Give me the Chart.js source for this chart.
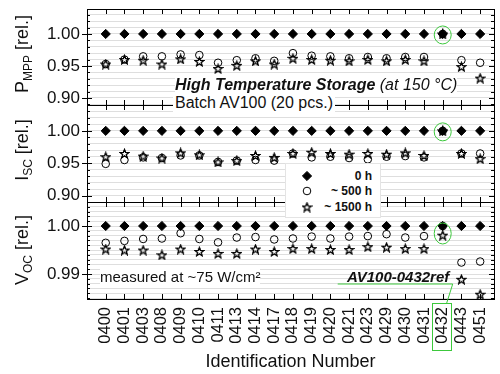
<!DOCTYPE html>
<html>
<head>
<meta charset="utf-8">
<script src="https://cdn.jsdelivr.net/npm/chart.js@4.4.1/dist/chart.umd.min.js"></script>
<style>
  html, body { margin: 0; padding: 0; background: #fff; }
  #wrap { position: relative; width: 500px; height: 374px; overflow: hidden;
          font-family: "Liberation Sans", Arial, sans-serif; color: #111; }
  #wrap canvas.panel { position: absolute; left: 0; }
  .note { position: absolute; white-space: nowrap; background: #fff; }
  .ytitle { position: absolute; white-space: nowrap; font-size: 18px; line-height: 18px;
            transform: translate(-50%, -50%) rotate(-90deg); }
  .ytitle sub { font-size: 12px; vertical-align: -4px; line-height: 0; }
  #legend { position: absolute; left: 285px; top: 163px; width: 96px; height: 55px;
            background: #fff; border: 1px solid #e4e4e4; box-sizing: border-box; }
  #legend .row { position: absolute; left: 0; width: 100%; height: 14px;
                 font-weight: bold; font-size: 12px; line-height: 14px; }
  #legend .row canvas { position: absolute; left: 14px; top: 0; }
  #legend .row span { position: absolute; right: 8px; top: 0; }
</style>
</head>
<body>
<div id="wrap">
  <canvas id="cP" class="panel" width="500" height="120" style="top:-3px"></canvas>
  <canvas id="cI" class="panel" width="500" height="121" style="top:93px"></canvas>
  <canvas id="cV" class="panel" width="500" height="184" style="top:190px"></canvas>

  <div class="ytitle" style="left:22px; top:54px">P<sub>MPP</sub> [rel.]</div>
  <div class="ytitle" style="left:22px; top:150px">I<sub>SC</sub> [rel.]</div>
  <div class="ytitle" style="left:22px; top:250px">V<sub>OC</sub> [rel.]</div>

  <div class="note" style="left:175px; top:76px; font-size:16px; line-height:18px; font-style:italic">
    <b>High Temperature Storage</b> (at 150 °C)</div>
  <div class="note" style="left:173px; top:94px; font-size:16px; line-height:18px; padding:0 2px">Batch AV100 (20 pcs.)</div>
  <div class="note" style="left:100px; top:268px; font-size:15px; line-height:17px">measured at ~75 W/cm²</div>
  <div class="note" style="left:347px; top:270px; font-size:15px; line-height:13px; font-weight:bold; font-style:italic; background:none">AV100-0432ref</div>

  <div id="legend">
    <div class="row" style="top:5px"><canvas id="lg0" width="14" height="14"></canvas><span id="lt0"></span></div>
    <div class="row" style="top:20px"><canvas id="lg1" width="14" height="14"></canvas><span id="lt1"></span></div>
    <div class="row" style="top:36px"><canvas id="lg2" width="14" height="14"></canvas><span id="lt2"></span></div>
  </div>
</div>

<script>
// Identification numbers of the modules (x categories)
const ids = ['0400','0401','0403','0408','0409','0410','0411','0413','0414','0417','0418',
             '0419','0420','0421','0423','0429','0430','0431','0432','0443','0451'];
const seriesNames = ['0 h', '~ 500 h', '~ 1500 h'];

// P_MPP relative
const p0h    = [1.000,1.000,1.000,1.000,1.000,1.000,1.000,1.000,1.000,1.000,1.000,1.000,1.000,1.000,1.000,1.000,1.000,1.000,1.000,1.000,1.000];
const p500h  = [0.953,0.960,0.965,0.965,0.968,0.967,0.955,0.959,0.962,0.958,0.970,0.966,0.965,0.962,0.964,0.962,0.964,0.964,1.000,0.959,0.955];
const p1500h = [0.953,0.960,0.959,0.953,0.961,0.957,0.946,0.951,0.958,0.953,0.962,0.960,0.959,0.958,0.960,0.958,0.960,0.958,1.000,0.949,0.931];

// I_SC relative
const i0h    = [1.000,1.000,1.000,1.000,1.000,1.000,1.000,1.000,1.000,1.000,1.000,1.000,1.000,1.000,1.000,1.000,1.000,1.000,1.000,1.000,1.000];
const i500h  = [0.949,0.955,0.959,0.958,0.962,0.962,0.952,0.954,0.955,0.954,0.965,0.959,0.960,0.958,0.956,0.960,0.961,0.959,1.000,0.965,0.965];
const i1500h = [0.960,0.965,0.961,0.958,0.966,0.963,0.952,0.954,0.962,0.959,0.965,0.967,0.965,0.964,0.965,0.964,0.966,0.962,1.000,0.965,0.957];

// V_OC relative
const v0h    = [1.0000,1.0000,1.0000,1.0000,1.0000,1.0000,1.0000,1.0000,1.0000,1.0000,1.0000,1.0000,1.0000,1.0000,1.0000,1.0000,1.0000,1.0000,1.0000,1.0000,1.0000];
const v500h  = [0.9965,0.9969,0.9973,0.9974,0.9985,0.9973,0.9966,0.9976,0.9977,0.9972,0.9974,0.9978,0.9974,0.9978,0.9979,0.9983,0.9976,0.9979,1.0000,0.9924,0.9926];
const v1500h = [0.9952,0.9950,0.9950,0.9940,0.9952,0.9947,0.9943,0.9943,0.9952,0.9947,0.9953,0.9953,0.9951,0.9951,0.9957,0.9956,0.9953,0.9953,0.9981,0.9889,0.9858];

// tick labels of the three y axes
const pTicks = ['0.90', '0.95', '1.00'];
const iTicks = ['0.90', '0.95', '1.00'];
const vTicks = ['0.99', '1.00'];

const refIndex = ids.indexOf('0432');
const FONT = '"Liberation Sans", Arial, sans-serif';
const GREEN = '#3cc83c';

// open five pointed star used as point style
function starImage(size, outer, inner) {
  const c = document.createElement('canvas');
  c.width = c.height = size;
  const g = c.getContext('2d');
  g.beginPath();
  for (let k = 0; k < 10; k++) {
    const r = k % 2 ? inner : outer;
    const a = -Math.PI / 2 + k * Math.PI / 5;
    g.lineTo(size / 2 + r * Math.cos(a), size / 2 + r * Math.sin(a) + 0.5);
  }
  g.closePath();
  g.strokeStyle = '#000';
  g.lineWidth = 1.1;
  g.stroke();
  g.stroke(); // second pass keeps the thin outline dark
  return c;
}
const star = starImage(11, 4.5, 1.9);

function points(vals) {
  return vals.map((v, i) => ({x: i, y: v}));
}

// frame, inward ticks and the green marks
const panelFrame = {
  id: 'panelFrame',
  afterDraw(chart, args, opts) {
    const ctx = chart.ctx, a = chart.chartArea;
    const x = chart.scales.x, y = chart.scales.y;
    ctx.save();
    ctx.strokeStyle = '#000';
    ctx.lineWidth = 1;
    ctx.beginPath();
    ids.forEach((_, i) => {
      const px = Math.round(x.getPixelForValue(i)) + 0.5;
      ctx.moveTo(px, a.top); ctx.lineTo(px, a.top + 5);
      ctx.moveTo(px, a.bottom); ctx.lineTo(px, a.bottom - 5);
    });
    y.ticks.forEach(t => {
      const py = Math.round(y.getPixelForValue(t.value)) + 0.5;
      const major = t.label !== '';
      ctx.moveTo(a.left - (major ? 5 : 0), py); ctx.lineTo(a.left + (major ? 5 : 3), py);
      ctx.moveTo(a.right, py); ctx.lineTo(a.right - (major ? 5 : 3), py);
    });
    ctx.stroke();
    ctx.strokeRect(Math.round(a.left) + 0.5, Math.round(a.top) + 0.5,
                   Math.round(a.right - a.left), Math.round(a.bottom - a.top));

    // ring round the reference module
    const rx = x.getPixelForValue(refIndex);
    ctx.strokeStyle = GREEN;
    ctx.beginPath();
    ctx.ellipse(rx, y.getPixelForValue(opts.ringAt) + 1, 8.5, opts.ringRy, 0, 0, 2 * Math.PI);
    ctx.stroke();

    if (opts.callout) {
      ctx.beginPath();
      ctx.moveTo(rx - 105, a.bottom - 15);
      ctx.lineTo(rx + 10, a.bottom - 15);
      ctx.lineTo(rx + 4, a.bottom + 4);
      ctx.stroke();
      ctx.strokeRect(Math.round(rx) - 10.5, a.bottom + 4.5, 19, 47);
    }
    ctx.restore();
  }
};

function makePanel(id, series, yMin, yMax, step, tickLabels, ringAt, ringRy, withAxis) {
  return new Chart(document.getElementById(id), {
    type: 'scatter',
    data: {
      datasets: [
        { label: seriesNames[0], data: points(series[0]), pointStyle: 'rectRot', pointRadius: 4.6,
          pointBackgroundColor: '#000', pointBorderColor: '#000', pointBorderWidth: 1 },
        { label: seriesNames[1], data: points(series[1]), pointStyle: 'circle', pointRadius: 3.8,
          pointBackgroundColor: 'rgba(0,0,0,0)', pointBorderColor: '#000', pointBorderWidth: 1 },
        { label: seriesNames[2], data: points(series[2]), pointStyle: star, pointRadius: 5,
          pointBackgroundColor: 'rgba(0,0,0,0)', pointBorderColor: '#000' }
      ]
    },
    options: {
      responsive: false,
      animation: false,
      events: [],
      layout: { padding: { top: 12, bottom: withAxis ? 0 : 12, left: 0, right: 0 } },
      plugins: {
        legend: { display: false },
        tooltip: { enabled: false },
        panelFrame: { ringAt: ringAt, ringRy: ringRy, callout: withAxis }
      },
      scales: {
        x: {
          type: 'linear', min: -1, max: 20.74,
          display: withAxis,
          grid: { display: false, drawTicks: false },
          border: { display: false },
          afterBuildTicks: s => { s.ticks = ids.map((_, i) => ({value: i})); },
          afterFit: s => {
            if (withAxis) s.height = 75;
            s.paddingLeft = 0; s.paddingRight = 0;
          },
          ticks: { autoSkip: false, minRotation: 90, maxRotation: 90, padding: 8, color: '#111',
                   font: { size: 16.5, family: FONT }, callback: v => ids[v] },
          title: { display: true, text: 'Identification Number', color: '#111',
                   font: { size: 18, family: FONT }, padding: { top: 0, bottom: 1.2 } }
        },
        y: {
          type: 'linear', min: yMin, max: yMax,
          afterFit: s => { s.width = 87; s.paddingTop = 0; s.paddingBottom = 0; },
          afterBuildTicks: s => {
            const n0 = Math.ceil(yMin / step - 1e-6), n1 = Math.floor(yMax / step + 1e-6);
            s.ticks = [];
            for (let k = n0; k <= n1; k++) s.ticks.push({value: +(k * step).toFixed(4)});
          },
          grid: { color: '#dedede', lineWidth: 1, drawTicks: false },
          border: { display: false },
          ticks: {
            autoSkip: false, padding: 7, color: '#111', font: { size: 17, family: FONT },
            callback: v => {
              const s = v.toFixed(2);
              return tickLabels.includes(s) && Math.abs(v - Number(s)) < 1e-9 ? s : '';
            }
          }
        }
      }
    },
    plugins: [panelFrame]
  });
}

makePanel('cP', [p0h, p500h, p1500h], 0.889, 1.039, 0.01, pTicks, 1.0, 9, false);
makePanel('cI', [i0h, i500h, i1500h], 0.890, 1.040, 0.01, iTicks, 1.0, 9, false);
makePanel('cV', [v0h, v500h, v1500h], 0.9848, 1.005, 0.001, vTicks, 0.99865, 10.5, true);

// legend symbols
(function () {
  const draw = [
    g => { g.beginPath(); g.moveTo(7, 2.4); g.lineTo(11.6, 7); g.lineTo(7, 11.6); g.lineTo(2.4, 7); g.closePath(); g.fill(); g.stroke(); },
    g => { g.beginPath(); g.arc(7, 7, 3.8, 0, 2 * Math.PI); g.stroke(); },
    g => { g.drawImage(star, 1.5, 1.5); }
  ];
  for (let k = 0; k < 3; k++) {
    const g = document.getElementById('lg' + k).getContext('2d');
    g.fillStyle = '#000'; g.strokeStyle = '#000'; g.lineWidth = 1;
    draw[k](g);
    document.getElementById('lt' + k).textContent = seriesNames[k];
  }
})();
</script>
</body>
</html>
